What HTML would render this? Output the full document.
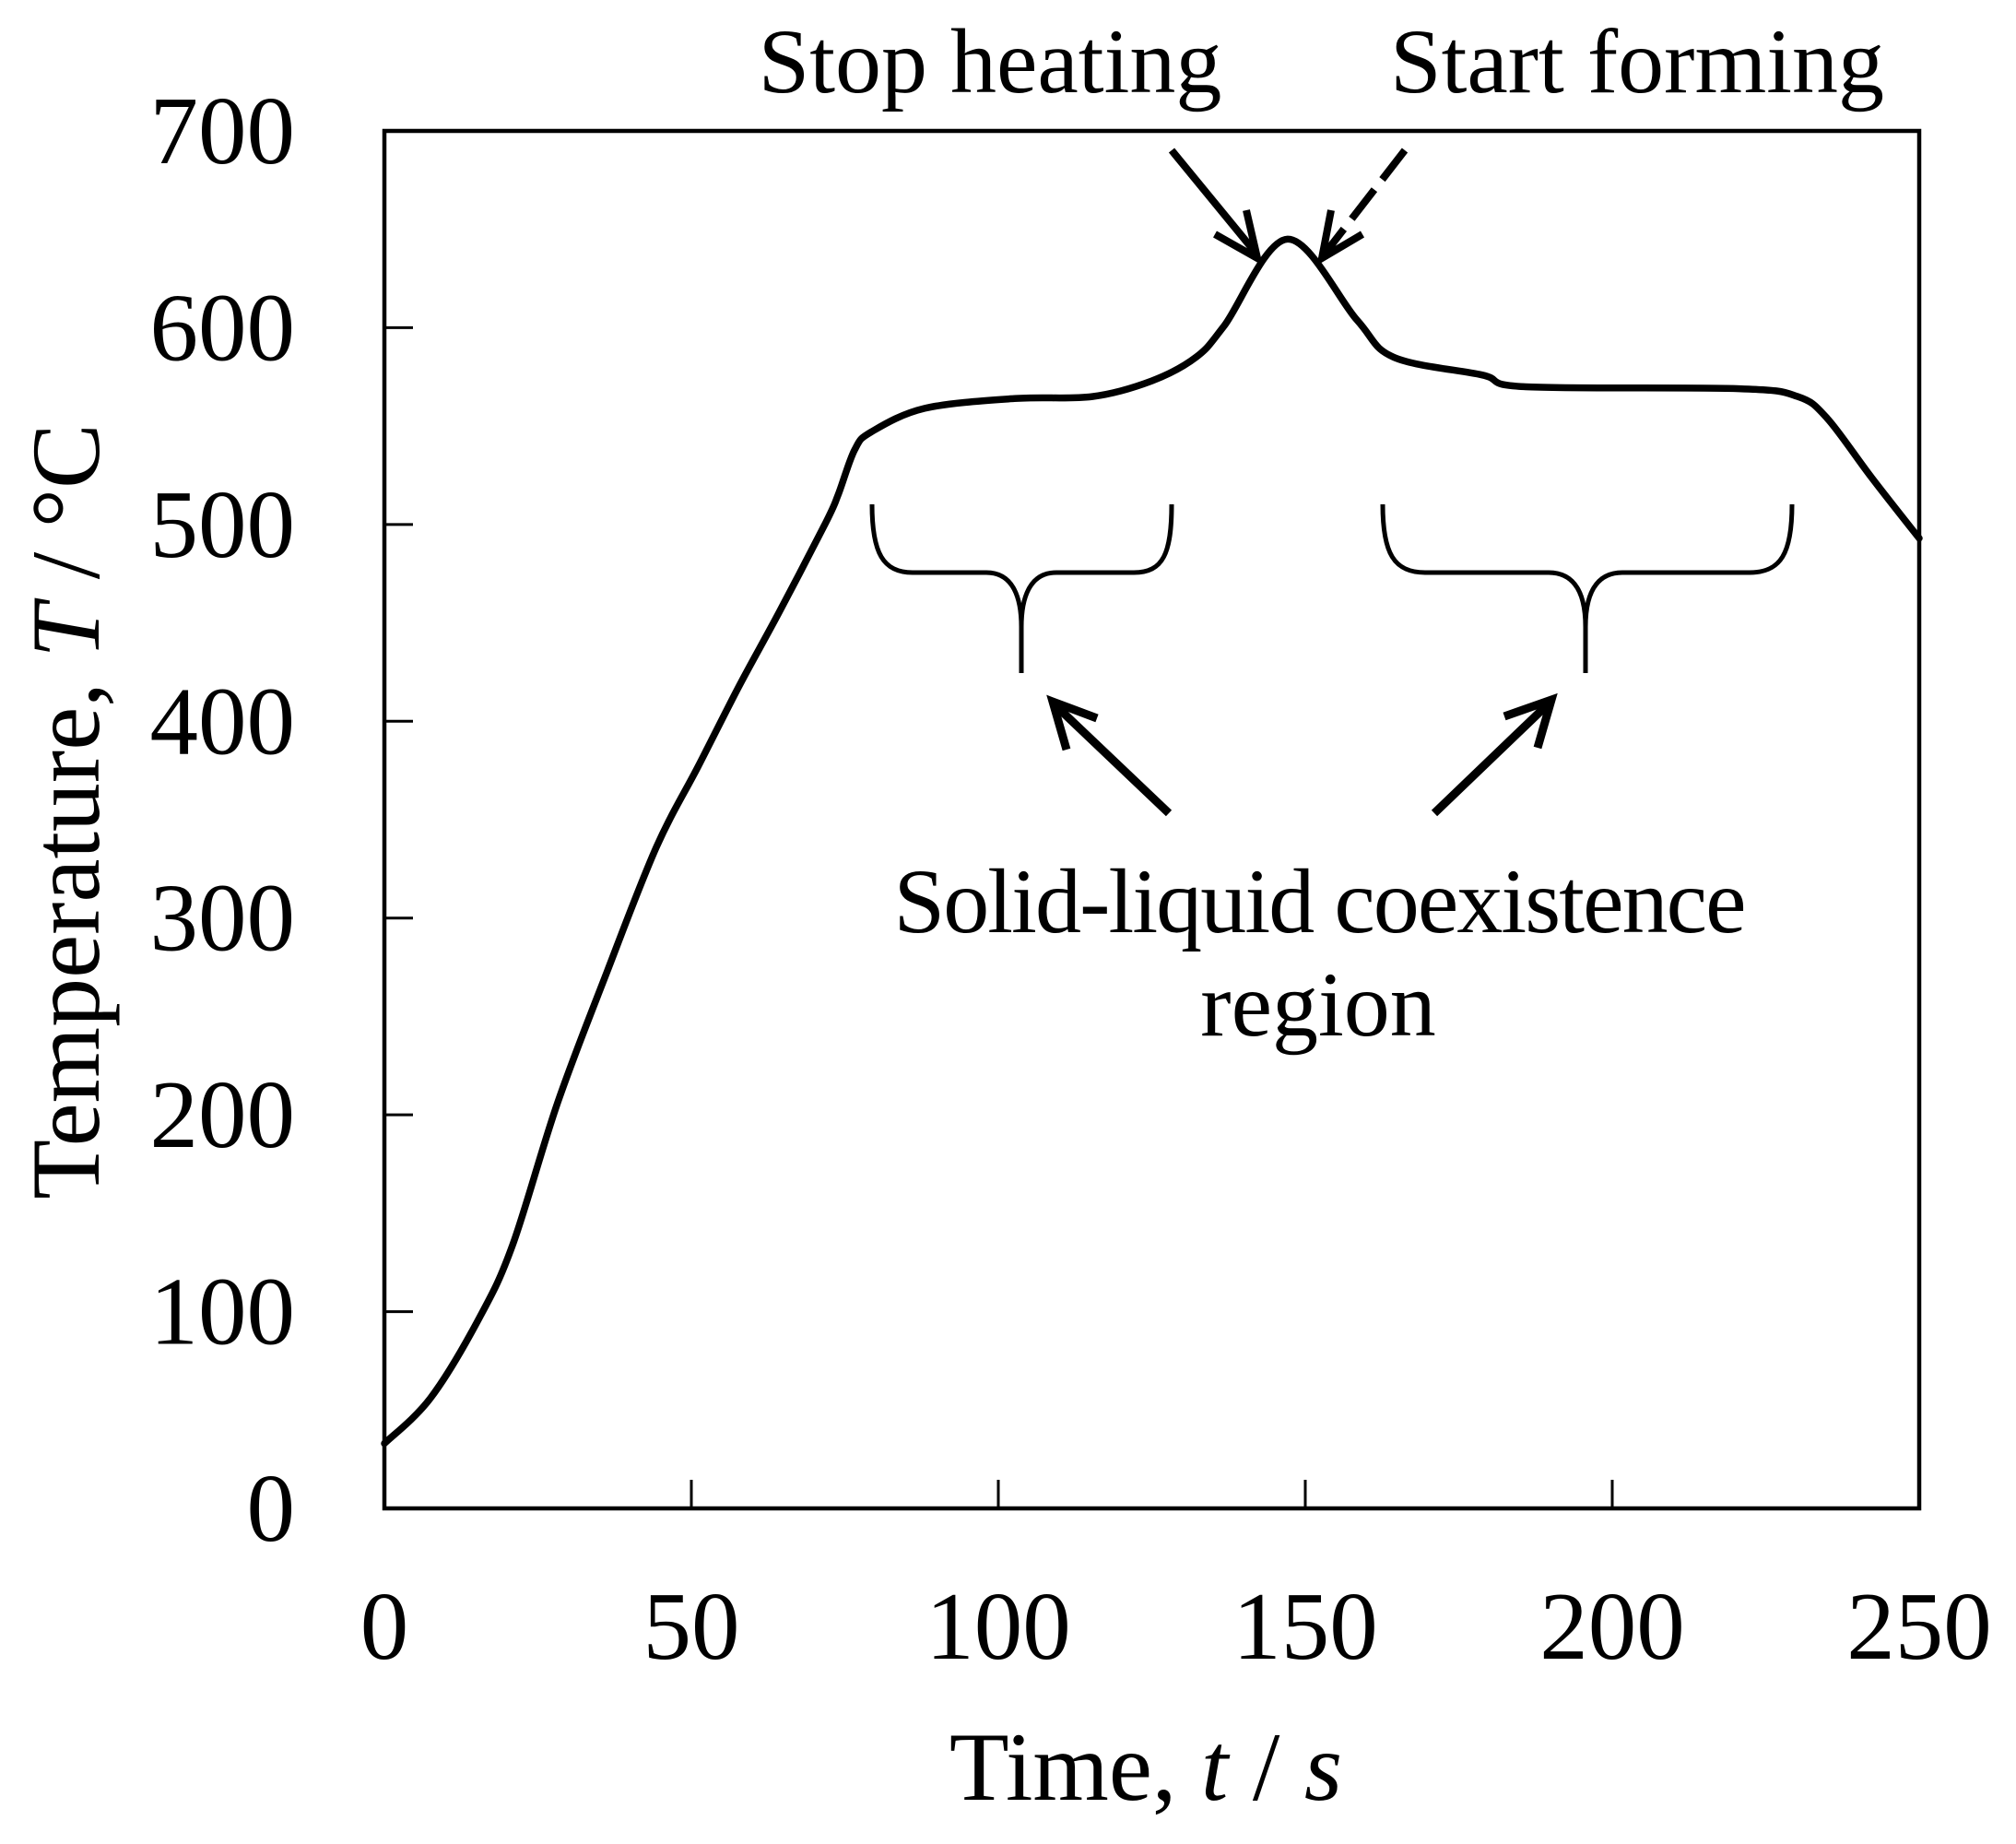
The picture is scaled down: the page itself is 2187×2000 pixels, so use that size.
<!DOCTYPE html>
<html><head><meta charset="utf-8"><style>
html,body{margin:0;padding:0;background:#fff;}
svg{display:block;}
text{font-family:"Liberation Serif","Times New Roman",serif;fill:#000;}
</style></head><body>
<svg id="chart" width="2187" height="2000" viewBox="0 0 2187 2000" xmlns="http://www.w3.org/2000/svg">
<rect x="0" y="0" width="2187" height="2000" fill="#fff"/>
<g id="ticks"></g>
<path id="curve" fill="none" stroke="#000" stroke-width="7.5" stroke-linejoin="round" stroke-linecap="round"/>
<rect x="417" y="142" width="1665" height="1494" fill="none" stroke="#000" stroke-width="4.5"/>

<text x="1074" y="100" font-size="100" text-anchor="middle">Stop heating</text>
<text x="1776" y="100" font-size="100" text-anchor="middle">Start forming</text>
<g stroke="#000" stroke-width="8" fill="none" stroke-linecap="butt">
  <line x1="1271" y1="163" x2="1362" y2="274"/>
  <polyline points="1318,254 1364,280 1352,228"/>
</g>
<g stroke="#000" stroke-width="8" fill="none">
  <line x1="1524" y1="163" x2="1438" y2="274" stroke-dasharray="40,14"/>
  <polyline points="1444,228 1434,280 1478,254"/>
</g>

<g stroke="#000" stroke-width="5" fill="none">
  <path d="M946,547 C946,600 958,621 990,621 L1070,621 C1100,621 1108,650 1108,680 L1108,730 M1108,680 C1108,650 1116,621 1146,621 L1230,621 C1262,621 1271,600 1271,547"/>
</g>
<g stroke="#000" stroke-width="5" fill="none">
  <path d="M1500,547 C1500,600 1512,621 1546,621 L1680,621 C1712,621 1720,650 1720,680 L1720,730 M1720,680 C1720,650 1728,621 1760,621 L1898,621 C1932,621 1944,600 1944,547"/>
</g>
<g stroke="#000" stroke-width="9" fill="none">
  <line x1="1268" y1="882" x2="1146" y2="766"/>
  <polyline points="1190,779 1142,761 1157,813"/>
</g>
<g stroke="#000" stroke-width="9" fill="none">
  <line x1="1556" y1="882" x2="1679" y2="764"/>
  <polyline points="1632,777 1683,759 1668,811"/>
</g>
<text x="1432" y="1011" font-size="100" text-anchor="middle" textLength="925">Solid-liquid coexistence</text>
<text x="1430" y="1123" font-size="100" text-anchor="middle">region</text>

<text x="1243" y="1952" font-size="106" text-anchor="middle">Time, <tspan font-style="italic">t</tspan> / <tspan font-style="italic">s</tspan></text>
<text transform="translate(107,880) rotate(-90)" font-size="106" text-anchor="middle">Temperature, <tspan font-style="italic">T</tspan> / °C</text>
</svg>
<script>
const times = [0, 7.5, 15.5, 20.9, 28.2, 36.3, 44.3, 51.1, 57.8, 64.4, 71.9, 73.9, 76.6, 79.3, 88, 102.6, 115.3, 125, 132.2, 136.8, 147.1, 158.4, 164.4, 178.8, 185.9, 220.7, 230.2, 235, 242.2, 250];
const temps = [33, 56, 97, 134, 206, 273, 336, 377, 418, 456, 501, 515, 538, 547, 559, 564, 565, 573, 585, 601, 645, 604, 585, 576, 570, 569, 565, 554, 524, 493];
const xTicks = [0, 50, 100, 150, 200, 250];
const yTicks = [0, 100, 200, 300, 400, 500, 600, 700];

const X0 = 417, X1 = 2082, Y0 = 1636, Y1 = 142;
function xs(t){ return X0 + (t / 250) * (X1 - X0); }
function ys(v){ return Y0 - (v / 700) * (Y0 - Y1); }
const NS = 'http://www.w3.org/2000/svg';
const tg = document.getElementById('ticks');
const svg = document.getElementById('chart');

xTicks.forEach(function(t){
  const l = document.createElementNS(NS, 'line');
  l.setAttribute('x1', xs(t)); l.setAttribute('x2', xs(t));
  l.setAttribute('y1', Y0); l.setAttribute('y2', Y0 - 31);
  l.setAttribute('stroke', '#000'); l.setAttribute('stroke-width', '3');
  
  
  tg.appendChild(l);
  const tx = document.createElementNS(NS, 'text');
  tx.setAttribute('x', xs(t)); tx.setAttribute('y', 1799);
  tx.setAttribute('font-size', '105'); tx.setAttribute('text-anchor', 'middle');
  tx.textContent = t;
  
  
  svg.appendChild(tx);
});
yTicks.forEach(function(v){
  const l = document.createElementNS(NS, 'line');
  l.setAttribute('x1', X0); l.setAttribute('x2', X0 + 31);
  l.setAttribute('y1', ys(v)); l.setAttribute('y2', ys(v));
  l.setAttribute('stroke', '#000'); l.setAttribute('stroke-width', '3');
  
  
  tg.appendChild(l);
  const tx = document.createElementNS(NS, 'text');
  tx.setAttribute('x', 320); tx.setAttribute('y', ys(v) + 35);
  tx.setAttribute('font-size', '105'); tx.setAttribute('text-anchor', 'end');
  tx.textContent = v;
  
  
  svg.appendChild(tx);
});

const pts = times.map(function(t, i){ return [xs(t), ys(temps[i])]; });
let d = 'M' + pts[0][0].toFixed(1) + ',' + pts[0][1].toFixed(1);
for (let i = 0; i < pts.length - 1; i++) {
  const p0 = pts[Math.max(0, i - 1)], p1 = pts[i], p2 = pts[i + 1], p3 = pts[Math.min(pts.length - 1, i + 2)];
  const k = 1 / 6;
  const c1 = [p1[0] + (p2[0] - p0[0]) * k, p1[1] + (p2[1] - p0[1]) * k];
  const c2 = [p2[0] - (p3[0] - p1[0]) * k, p2[1] - (p3[1] - p1[1]) * k];
  d += ' C' + c1[0].toFixed(1) + ',' + c1[1].toFixed(1) + ' ' + c2[0].toFixed(1) + ',' + c2[1].toFixed(1) + ' ' + p2[0].toFixed(1) + ',' + p2[1].toFixed(1);
}
document.getElementById('curve').setAttribute('d', d);
</script>
</body></html>
